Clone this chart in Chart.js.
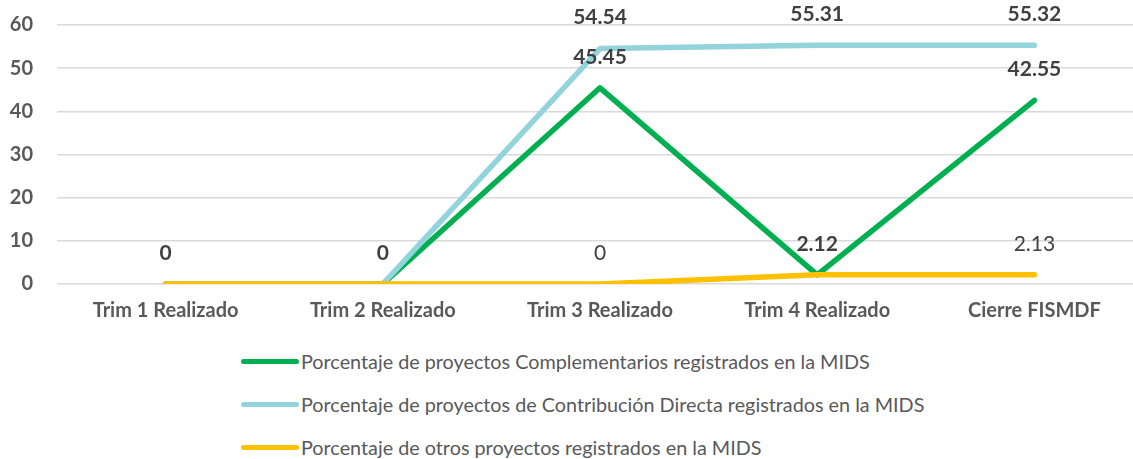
<!DOCTYPE html>
<html>
<head>
<meta charset="utf-8">
<script src="https://cdn.jsdelivr.net/npm/chart.js@4"></script>
<style>
  html, body { margin: 0; padding: 0; background: #fff; overflow: hidden; }
  #wrap { position: relative; width: 1133px; height: 459px; overflow: hidden; }
  #box { position: absolute; left: 0; top: 0; width: 1145px; height: 330px; }
  #legend { position: absolute; left: 241px; top: 350px; font-family: Lato, sans-serif; font-size: 19.8px; color: #595959; }
  .item { display: flex; align-items: center; height: 22px; margin-bottom: 21px; white-space: nowrap; }
  .swatch { width: 58px; height: 5px; border-radius: 3px; margin-right: 2px; flex: none; }
</style>
</head>
<body>
<div id="wrap">
  <div id="box"><canvas id="lineChart"></canvas></div>
  <div id="legend"></div>
</div>
<script>
// categories and series values
var categories = ['Trim 1 Realizado', 'Trim 2 Realizado', 'Trim 3 Realizado', 'Trim 4 Realizado', 'Cierre FISMDF'];
var complementarios = [0, 0, 45.45, 2.12, 42.55];
var contribucionDirecta = [0, 0, 54.54, 55.31, 55.32];
var otros = [0, 0, 0, 2.12, 2.13];
var yTicks = [0, 10, 20, 30, 40, 50, 60];

// which points get a value label
var complementariosLabels = [true, true, true, true, true];
var contribucionLabels = [false, false, true, true, true];
var otrosLabels = [false, false, true, false, true];

var series = [
    { label: 'Porcentaje de proyectos Complementarios registrados en la MIDS', data: complementarios, color: '#00B050', show: complementariosLabels, bold: true, order: 2 },
    { label: 'Porcentaje de proyectos de Contribución Directa registrados en la MIDS', data: contribucionDirecta, color: '#92D3DC', show: contribucionLabels, bold: true, order: 1 },
    { label: 'Porcentaje de otros proyectos registrados en la MIDS', data: otros, color: '#FFC000', show: otrosLabels, bold: false, order: 0 }
];

// simple value labels drawn above each point
var valueLabels = {
    id: 'valueLabels',
    afterDatasetsDraw: function(chart) {
        var ctx = chart.ctx;
        ctx.save();
        ctx.textAlign = 'center';
        ctx.textBaseline = 'middle';
        chart.data.datasets.forEach(function(ds, i) {
            var meta = chart.getDatasetMeta(i);
            meta.data.forEach(function(pt, j) {
                if (!ds.showLabels[j]) return;
                ctx.font = (ds.boldLabels ? 'bold ' : '') + '21px Lato, sans-serif';
                ctx.fillStyle = '#404040';
                ctx.fillText(String(ds.data[j]), pt.x, pt.y - 31);
            });
        });
        ctx.restore();
    }
};

var ctx = document.getElementById('lineChart').getContext('2d');
var lineChart = new Chart(ctx, {
    type: 'line',
    data: {
        labels: categories,
        datasets: series.map(function(s) {
            return {
                label: s.label,
                data: s.data,
                borderColor: s.color,
                backgroundColor: s.color,
                borderWidth: 5.5,
                borderCapStyle: 'round',
                borderJoinStyle: 'round',
                pointRadius: 0,
                tension: 0,
                order: s.order,
                showLabels: s.show,
                boldLabels: s.bold
            };
        })
    },
    options: {
        responsive: true,
        maintainAspectRatio: false,
        animation: false,
        layout: { padding: { top: 25, right: 2, left: 0, bottom: 0 } },
        plugins: {
            legend: { display: false },
            tooltip: { enabled: false }
        },
        scales: {
            x: {
                offset: true,
                grid: { display: false, drawTicks: false },
                border: { display: false },
                ticks: { color: '#595959', font: { family: 'Lato', size: 20, weight: 'bold' }, padding: 15, maxRotation: 0 },
                afterFit: function(scale) { scale.height = 46; }
            },
            y: {
                min: 0,
                max: 60,
                grid: { color: '#D9D9D9', lineWidth: 1.5, drawTicks: false },
                border: { display: false },
                ticks: {
                    stepSize: 10,
                    color: '#595959',
                    font: { family: 'Lato', size: 20, weight: 'bold' },
                    padding: 24,
                    callback: function(v) { return yTicks.indexOf(v) >= 0 ? v : ''; }
                },
                afterFit: function(scale) {
                    scale.width = 57;
                    scale.paddingTop = 0;
                    scale.paddingBottom = 0;
                }
            }
        }
    },
    plugins: [valueLabels]
});

// legend as a vertical list, like the original
var legendEl = document.getElementById('legend');
series.forEach(function(s) {
    var row = document.createElement('div');
    row.className = 'item';
    var sw = document.createElement('span');
    sw.className = 'swatch';
    sw.style.background = s.color;
    var txt = document.createElement('span');
    txt.textContent = s.label;
    row.appendChild(sw);
    row.appendChild(txt);
    legendEl.appendChild(row);
});
</script>
</body>
</html>
